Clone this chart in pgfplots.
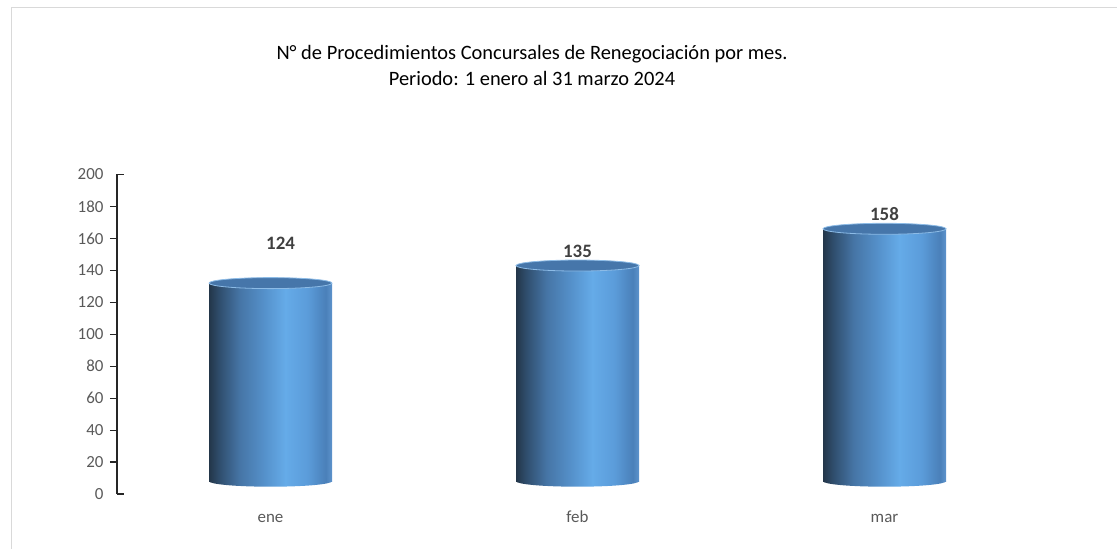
\documentclass[border=0pt]{standalone}
\usepackage{pgfplots}
\pgfplotsset{compat=1.18}
\usepackage{fontspec}
\setmainfont{Carlito}
\definecolor{s0}{HTML}{233649}
\definecolor{s1}{HTML}{2F4D6C}
\definecolor{s2}{HTML}{4675A6}
\definecolor{s3}{HTML}{5591CB}
\definecolor{s4}{HTML}{65ABE8}
\definecolor{s5}{HTML}{5B9CDA}
\definecolor{s6}{HTML}{4A80B9}
\definecolor{s7}{HTML}{5D93CC}
\definecolor{topblue}{HTML}{4676AA}
\definecolor{toprim}{HTML}{8CBBE6}
\definecolor{tickgray}{HTML}{595959}
\definecolor{labelgray}{HTML}{404040}
\definecolor{framegray}{HTML}{D9D9D9}
\pgfdeclarehorizontalshading{cyl}{100bp}{color(0bp)=(s0); color(25bp)=(s0); color(29bp)=(s1); color(37.5bp)=(s2); color(47.5bp)=(s3); color(56bp)=(s4); color(65bp)=(s5); color(72.5bp)=(s6); color(75bp)=(s7); color(100bp)=(s7)}
\pgfdeclareplotmark{cyltop}{%
  \pgfpathellipse{\pgfpointorigin}{\pgfqpoint{61.5bp}{0pt}}{\pgfqpoint{0pt}{5.5bp}}%
  \pgfusepathqfillstroke}
\pgfdeclareplotmark{cylbot}{%
  \pgfpathellipse{\pgfpointorigin}{\pgfqpoint{61.5bp}{0pt}}{\pgfqpoint{0pt}{5.5bp}}%
  \pgfshadepath{cyl}{0}%
  \pgfusepath{discard}}
\pgfplotsset{cylbody/.style={ybar, bar width=123bp, bar shift=0pt, shading=cyl, draw=none, yshift=12.8bp}}
\begin{document}
\begin{tikzpicture}
\path[use as bounding box] (-117bp,-55bp) rectangle (1000bp,494bp);
\draw[framegray, line width=1.5bp] (-105.5bp,-55bp) -- (-105.5bp,486.5bp) -- (1000bp,486.5bp);
\begin{axis}[
  at={(0,0)}, anchor=south west,
  scale only axis, width=921bp, height=319.5bp,
  xmin=-0.5, xmax=2.5, ymin=0, ymax=200,
  axis lines*=left,
  x axis line style={draw=none},
  y axis line style={line width=1.3bp, color=black!85},
  xtick={0,1,2}, xticklabels={ene,feb,mar},
  x tick style={draw=none},
  ytick={20,40,...,180},
  extra y ticks={0,200},
  extra y tick style={major tick style={xshift=7bp}},
  y tick style={line width=1.2bp, color=black!85},
  tick align=outside,
  major tick length=7bp,
  tick label style={font=\fontsize{17}{20}\selectfont, text=tickgray},
  /pgf/number format/assume math mode=true,
  xticklabel style={text height=12bp, text depth=3bp, yshift=-6bp},
  yticklabel style={xshift=-3bp},
  clip=false,
]
\addplot[only marks, mark=cylbot, yshift=12.8bp] coordinates {(0,0) (1,0) (2,0)};
\addplot[cylbody] coordinates {(0,124)};
\addplot[cylbody] coordinates {(1,135)};
\addplot[cylbody] coordinates {(2,158)};
\addplot[only marks, mark=cyltop, yshift=12.8bp, mark options={fill=topblue, draw=toprim, line width=0.8bp}] coordinates {(0,124) (1,135) (2,158)};
\addplot[draw=none, mark=none, nodes near coords, point meta=explicit symbolic,
  nodes near coords style={anchor=center, font=\bfseries\fontsize{19}{22}\selectfont, text=labelgray}]
  coordinates {(0.033,156.8)[124] (1,152)[135] (2,175)[158]};
\end{axis}
\node[align=center, font=\fontsize{20.5}{26.5}\selectfont, text=black] at (415bp,428.5bp) {N° de Procedimientos Concursales de Renegociación por mes.\\Periodo: 1 enero al 31 marzo 2024};
\end{tikzpicture}
\end{document}
